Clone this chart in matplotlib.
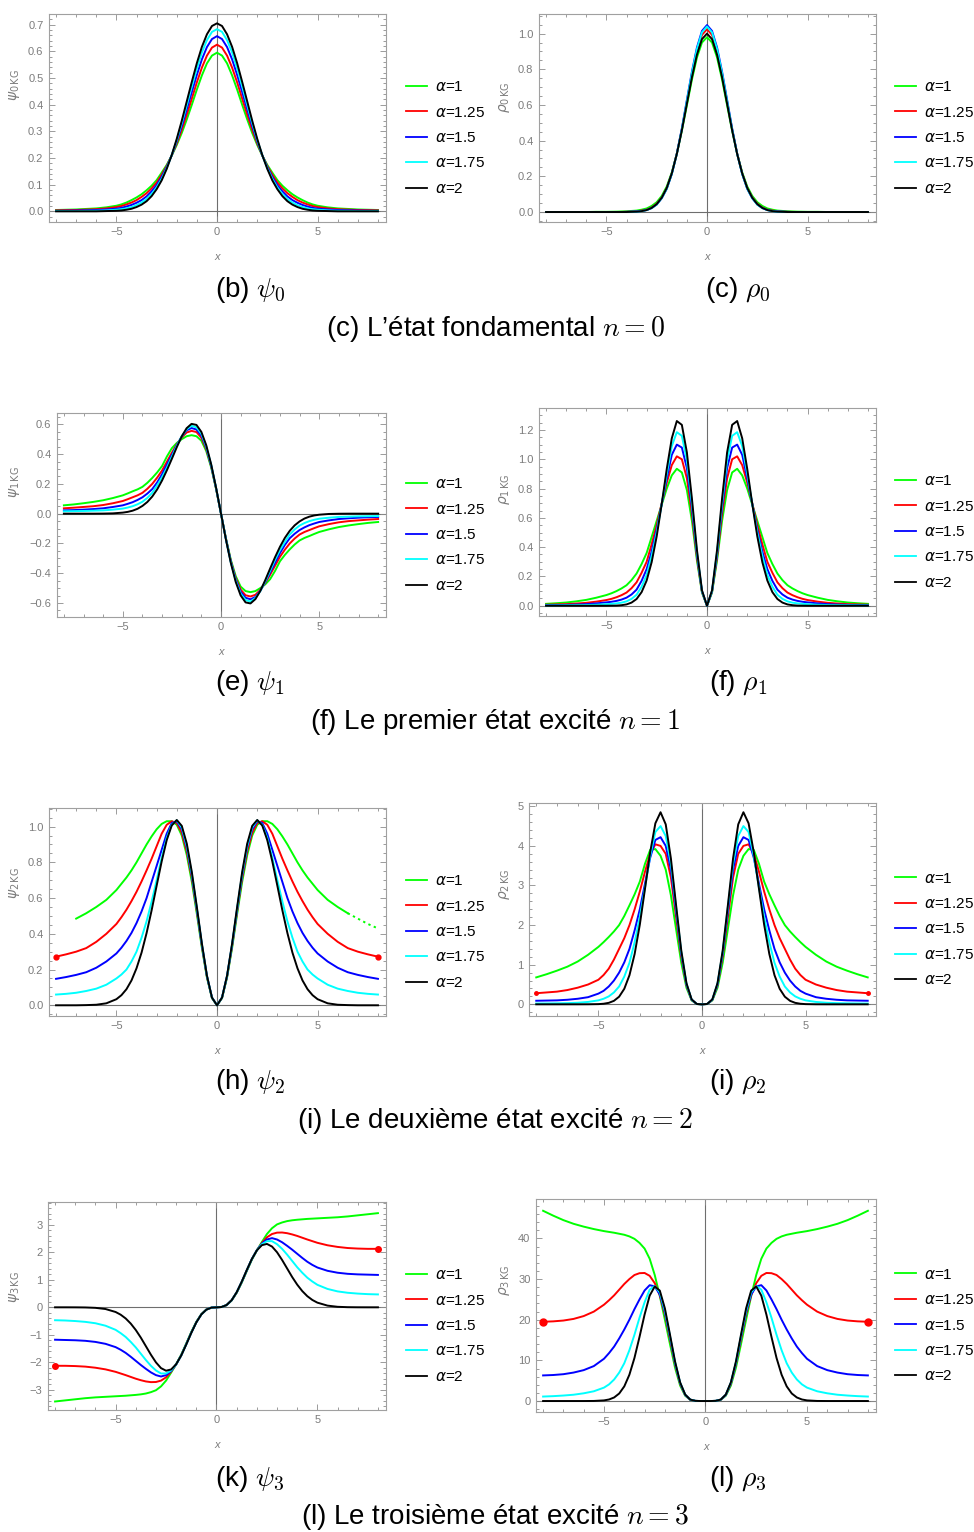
import matplotlib
matplotlib.use("Agg")
import numpy as np
import matplotlib.pyplot as plt
from matplotlib.ticker import MultipleLocator, FuncFormatter
from matplotlib.font_manager import FontProperties

plt.rcParams['font.family'] = ['Liberation Sans', 'DejaVu Sans']

W, H = 974, 1532

# ---------------- data ----------------
X = [-8, -7.5, -7, -6.5, -6, -5.5, -5, -4.75, -4.5, -4.25, -4, -3.75, -3.5, -3.25, -3, -2.75, -2.5,
     -2.25, -2, -1.75, -1.5, -1.25, -1, -0.75, -0.5, -0.25, 0, 0.25, 0.5, 0.75, 1, 1.25, 1.5, 1.75,
     2, 2.25, 2.5, 2.75, 3, 3.25, 3.5, 3.75, 4, 4.25, 4.5, 4.75, 5, 5.5, 6, 6.5, 7, 7.5, 8]

alpha_labels = ['1', '1.25', '1.5', '1.75', '2']
colors = ['#00ff00', '#ff0000', '#0000ff', '#00ffff', '#000000']

# psi_0
psi0_a1 = [0.005,0.006,0.007,0.009,0.011,0.015,0.021,0.026,0.033,0.042,0.052,0.064,0.079,0.096,0.117,0.145,0.174,0.209,0.249,0.294,0.345,0.400,0.457,0.510,0.555,0.584,0.595,0.584,0.555,0.510,0.457,0.400,0.345,0.294,0.249,0.209,0.174,0.145,0.117,0.096,0.079,0.064,0.052,0.042,0.033,0.026,0.021,0.015,0.011,0.009,0.007,0.006,0.005]
psi0_a125 = [0.0035,0.0045,0.005,0.0065,0.008,0.011,0.016,0.020,0.026,0.033,0.042,0.054,0.068,0.086,0.108,0.137,0.170,0.210,0.255,0.306,0.363,0.423,0.484,0.539,0.584,0.614,0.625,0.614,0.584,0.539,0.484,0.423,0.363,0.306,0.255,0.210,0.170,0.137,0.108,0.086,0.068,0.054,0.042,0.033,0.026,0.020,0.016,0.011,0.008,0.0065,0.005,0.0045,0.0035]
psi0_a15 = [0.002,0.0025,0.003,0.004,0.005,0.007,0.010,0.013,0.018,0.024,0.032,0.042,0.056,0.075,0.098,0.129,0.166,0.210,0.262,0.320,0.383,0.448,0.512,0.570,0.616,0.646,0.657,0.646,0.616,0.570,0.512,0.448,0.383,0.320,0.262,0.210,0.166,0.129,0.098,0.075,0.056,0.042,0.032,0.024,0.018,0.013,0.010,0.007,0.005,0.004,0.003,0.0025,0.002]
psi0_a175 = [0.001,0.001,0.001,0.0018,0.002,0.0035,0.006,0.008,0.011,0.016,0.023,0.033,0.046,0.065,0.090,0.122,0.162,0.211,0.267,0.331,0.399,0.469,0.536,0.596,0.642,0.673,0.683,0.673,0.642,0.596,0.536,0.469,0.399,0.331,0.267,0.211,0.162,0.122,0.090,0.065,0.046,0.033,0.023,0.016,0.011,0.008,0.006,0.0035,0.002,0.0018,0.001,0.001,0.001]
psi0_a2 = [0,0,0,0,0,0.001,0.002,0.0033,0.006,0.0096,0.016,0.025,0.038,0.057,0.083,0.116,0.159,0.211,0.272,0.340,0.413,0.486,0.556,0.617,0.664,0.695,0.705,0.695,0.664,0.617,0.556,0.486,0.413,0.340,0.272,0.211,0.159,0.116,0.083,0.057,0.038,0.025,0.016,0.0096,0.006,0.0033,0.002,0.001,0,0,0,0,0]

# rho_0
rho0_a1 = [0,0,0,0,0,0.001,0.001,0.0015,0.002,0.003,0.004,0.006,0.008,0.013,0.020,0.034,0.055,0.090,0.143,0.222,0.327,0.455,0.598,0.742,0.866,0.950,0.98,0.950,0.866,0.742,0.598,0.455,0.327,0.222,0.143,0.090,0.055,0.034,0.020,0.013,0.008,0.006,0.004,0.003,0.002,0.0015,0.001,0.001,0,0,0,0,0]
rho0_a125 = [0,0,0,0,0,0,0,0,0,0.0005,0.001,0.002,0.004,0.008,0.013,0.025,0.046,0.081,0.134,0.216,0.327,0.464,0.618,0.771,0.902,0.993,1.025,0.993,0.902,0.771,0.618,0.464,0.327,0.216,0.134,0.081,0.046,0.025,0.013,0.008,0.004,0.002,0.001,0.0005,0,0,0,0,0,0,0,0,0]
rho0_a15 = [0,0,0,0,0,0,0,0,0,0,0.001,0.002,0.003,0.006,0.011,0.022,0.042,0.077,0.130,0.213,0.327,0.468,0.628,0.786,0.922,1.015,1.048,1.015,0.922,0.786,0.628,0.468,0.327,0.213,0.130,0.077,0.042,0.022,0.011,0.006,0.003,0.002,0.001,0,0,0,0,0,0,0,0,0,0]
rho0_a175 = [0,0,0,0,0,0,0,0,0,0,0,0.001,0.002,0.005,0.011,0.022,0.042,0.078,0.131,0.213,0.325,0.464,0.622,0.778,0.914,1.007,1.040,1.007,0.914,0.778,0.622,0.464,0.325,0.213,0.131,0.078,0.042,0.022,0.011,0.005,0.002,0.001,0,0,0,0,0,0,0,0,0,0,0]
rho0_a2 = [0,0,0,0,0,0,0,0,0,0,0,0.001,0.002,0.005,0.011,0.023,0.044,0.080,0.135,0.216,0.325,0.458,0.607,0.755,0.882,0.969,1.0,0.969,0.882,0.755,0.607,0.458,0.325,0.216,0.135,0.080,0.044,0.023,0.011,0.005,0.002,0.001,0,0,0,0,0,0,0,0,0,0,0]

# psi_1
psi1_a1 = [0.056,0.062,0.07,0.079,0.09,0.105,0.123,0.136,0.15,0.163,0.18,0.207,0.24,0.277,0.32,0.385,0.44,0.475,0.50,0.52,0.527,0.52,0.49,0.42,0.31,0.165,0,-0.165,-0.31,-0.42,-0.49,-0.52,-0.527,-0.52,-0.50,-0.475,-0.44,-0.385,-0.32,-0.277,-0.24,-0.207,-0.18,-0.163,-0.15,-0.136,-0.123,-0.105,-0.09,-0.079,-0.07,-0.062,-0.056]
psi1_a125 = [0.036,0.04,0.045,0.05,0.058,0.07,0.085,0.097,0.11,0.123,0.14,0.167,0.20,0.242,0.29,0.35,0.41,0.465,0.512,0.545,0.556,0.548,0.51,0.433,0.318,0.168,0,-0.168,-0.318,-0.433,-0.51,-0.548,-0.556,-0.545,-0.512,-0.465,-0.41,-0.35,-0.29,-0.242,-0.20,-0.167,-0.14,-0.123,-0.11,-0.097,-0.085,-0.07,-0.058,-0.05,-0.045,-0.04,-0.036]
psi1_a15 = [0.022,0.024,0.027,0.031,0.036,0.045,0.056,0.066,0.077,0.092,0.11,0.135,0.165,0.21,0.265,0.33,0.395,0.46,0.518,0.56,0.575,0.565,0.525,0.443,0.322,0.17,0,-0.17,-0.322,-0.443,-0.525,-0.565,-0.575,-0.56,-0.518,-0.46,-0.395,-0.33,-0.265,-0.21,-0.165,-0.135,-0.11,-0.092,-0.077,-0.066,-0.056,-0.045,-0.036,-0.031,-0.027,-0.024,-0.022]
psi1_a175 = [0.016,0.017,0.018,0.02,0.022,0.027,0.034,0.041,0.05,0.063,0.08,0.106,0.14,0.19,0.245,0.31,0.383,0.455,0.52,0.567,0.59,0.58,0.537,0.45,0.327,0.172,0,-0.172,-0.327,-0.45,-0.537,-0.58,-0.59,-0.567,-0.52,-0.455,-0.383,-0.31,-0.245,-0.19,-0.14,-0.106,-0.08,-0.063,-0.05,-0.041,-0.034,-0.027,-0.022,-0.02,-0.018,-0.017,-0.016]
psi1_a2 = [0,0,0,0,0.0005,0.002,0.007,0.0119,0.020,0.0327,0.052,0.0785,0.115,0.163,0.223,0.293,0.369,0.447,0.519,0.574,0.603,0.596,0.549,0.459,0.331,0.1735,0,-0.1735,-0.331,-0.459,-0.549,-0.596,-0.603,-0.574,-0.519,-0.447,-0.369,-0.293,-0.223,-0.163,-0.115,-0.0785,-0.052,-0.0327,-0.020,-0.0119,-0.007,-0.002,-0.0005,0,0,0,0]

# rho_1
rho1_a1 = [0.013,0.017,0.022,0.03,0.04,0.055,0.073,0.085,0.10,0.118,0.14,0.175,0.22,0.285,0.36,0.47,0.58,0.69,0.80,0.89,0.935,0.91,0.79,0.58,0.31,0.09,0,0.09,0.31,0.58,0.79,0.91,0.935,0.89,0.80,0.69,0.58,0.47,0.36,0.285,0.22,0.175,0.14,0.118,0.10,0.085,0.073,0.055,0.04,0.03,0.022,0.017,0.013]
rho1_a125 = [0.007,0.009,0.011,0.015,0.02,0.028,0.039,0.047,0.058,0.072,0.09,0.12,0.16,0.225,0.30,0.42,0.55,0.70,0.84,0.96,1.02,1.0,0.87,0.63,0.33,0.095,0,0.095,0.33,0.63,0.87,1.0,1.02,0.96,0.84,0.70,0.55,0.42,0.30,0.225,0.16,0.12,0.09,0.072,0.058,0.047,0.039,0.028,0.02,0.015,0.011,0.009,0.007]
rho1_a15 = [0.004,0.005,0.006,0.008,0.011,0.016,0.023,0.027,0.033,0.042,0.055,0.077,0.11,0.17,0.25,0.37,0.52,0.695,0.87,1.03,1.10,1.08,0.94,0.67,0.35,0.098,0,0.098,0.35,0.67,0.94,1.08,1.10,1.03,0.87,0.695,0.52,0.37,0.25,0.17,0.11,0.077,0.055,0.042,0.033,0.027,0.023,0.016,0.011,0.008,0.006,0.005,0.004]
rho1_a175 = [0.002,0.002,0.003,0.004,0.005,0.007,0.011,0.013,0.016,0.021,0.03,0.047,0.075,0.13,0.21,0.34,0.50,0.695,0.90,1.09,1.185,1.16,0.995,0.70,0.365,0.10,0,0.10,0.365,0.70,0.995,1.16,1.185,1.09,0.90,0.695,0.50,0.34,0.21,0.13,0.075,0.047,0.03,0.021,0.016,0.013,0.011,0.007,0.005,0.004,0.003,0.002,0.002]
rho1_a2 = [0,0,0,0,0,0,0,0.0005,0.001,0.0037,0.009,0.0215,0.046,0.093,0.172,0.298,0.474,0.695,0.934,1.143,1.261,1.235,1.047,0.733,0.381,0.105,0,0.105,0.381,0.733,1.047,1.235,1.261,1.143,0.934,0.695,0.474,0.298,0.172,0.093,0.046,0.0215,0.009,0.0037,0.001,0.0005,0,0,0,0,0,0,0]

# psi_2  (alpha=1 curve is missing in the picture for x < -7)
psi2_a1 = [np.nan,np.nan,0.485,0.515,0.55,0.59,0.645,0.68,0.715,0.755,0.80,0.85,0.90,0.945,0.985,1.015,1.03,1.03,1.01,0.95,0.84,0.69,0.51,0.32,0.155,0.040,0,0.040,0.155,0.32,0.51,0.69,0.84,0.95,1.01,1.03,1.03,1.015,0.985,0.945,0.90,0.85,0.80,0.755,0.715,0.68,0.645,0.59,0.55,0.515,0.485,0.455,0.43]
psi2_a125 = [0.272,0.285,0.30,0.32,0.355,0.40,0.455,0.493,0.535,0.583,0.635,0.693,0.755,0.82,0.89,0.96,1.01,1.03,1.02,0.965,0.86,0.71,0.525,0.33,0.16,0.042,0,0.042,0.16,0.33,0.525,0.71,0.86,0.965,1.02,1.03,1.01,0.96,0.89,0.82,0.755,0.693,0.635,0.583,0.535,0.493,0.455,0.40,0.355,0.32,0.30,0.285,0.272]
psi2_a15 = [0.148,0.158,0.17,0.185,0.21,0.245,0.29,0.322,0.36,0.405,0.46,0.525,0.60,0.69,0.78,0.87,0.96,1.02,1.03,0.985,0.88,0.725,0.535,0.337,0.163,0.043,0,0.043,0.163,0.337,0.535,0.725,0.88,0.985,1.03,1.02,0.96,0.87,0.78,0.69,0.60,0.525,0.46,0.405,0.36,0.322,0.29,0.245,0.21,0.185,0.17,0.158,0.148]
psi2_a175 = [0.06,0.064,0.07,0.08,0.093,0.115,0.15,0.172,0.20,0.245,0.30,0.378,0.47,0.58,0.70,0.825,0.935,1.01,1.035,0.995,0.89,0.735,0.54,0.34,0.164,0.043,0,0.043,0.164,0.34,0.54,0.735,0.89,0.995,1.035,1.01,0.935,0.825,0.70,0.58,0.47,0.378,0.30,0.245,0.20,0.172,0.15,0.115,0.093,0.08,0.07,0.064,0.06]
psi2_a2 = [0,0,0,0.001,0.003,0.011,0.034,0.0565,0.090,0.139,0.207,0.2945,0.404,0.531,0.669,0.805,0.924,1.006,1.037,1.004,0.904,0.745,0.549,0.345,0.166,0.043,0,0.043,0.166,0.345,0.549,0.745,0.904,1.004,1.037,1.006,0.924,0.805,0.669,0.531,0.404,0.2945,0.207,0.139,0.090,0.0565,0.034,0.011,0.003,0.001,0,0,0]

# rho_2
rho2_a1 = [0.68,0.76,0.85,0.95,1.08,1.25,1.45,1.57,1.7,1.84,2.0,2.23,2.5,2.78,3.1,3.55,3.9,3.92,3.75,3.4,2.75,1.9,1.05,0.42,0.10,0.007,0,0.007,0.10,0.42,1.05,1.9,2.75,3.4,3.75,3.92,3.9,3.55,3.1,2.78,2.5,2.23,2.0,1.84,1.7,1.57,1.45,1.25,1.08,0.95,0.85,0.76,0.68]
rho2_a125 = [0.28,0.3,0.32,0.36,0.42,0.5,0.62,0.74,0.9,1.13,1.4,1.67,2.0,2.4,2.85,3.35,3.8,4.04,4.0,3.8,3.2,2.2,1.2,0.48,0.11,0.008,0,0.008,0.11,0.48,1.2,2.2,3.2,3.8,4.0,4.04,3.8,3.35,2.85,2.4,2.0,1.67,1.4,1.13,0.9,0.74,0.62,0.5,0.42,0.36,0.32,0.3,0.28]
rho2_a15 = [0.09,0.095,0.1,0.115,0.14,0.18,0.27,0.34,0.45,0.6,0.8,1.06,1.4,1.87,2.4,3.05,3.7,4.15,4.22,4.0,3.4,2.35,1.27,0.5,0.115,0.008,0,0.008,0.115,0.5,1.27,2.35,3.4,4.0,4.22,4.15,3.7,3.05,2.4,1.87,1.4,1.06,0.8,0.6,0.45,0.34,0.27,0.18,0.14,0.115,0.1,0.095,0.09]
rho2_a175 = [0.02,0.022,0.025,0.03,0.04,0.06,0.1,0.14,0.2,0.3,0.45,0.7,1.05,1.57,2.2,2.95,3.75,4.35,4.5,4.25,3.55,2.45,1.32,0.52,0.12,0.008,0,0.008,0.12,0.52,1.32,2.45,3.55,4.25,4.5,4.35,3.75,2.95,2.2,1.57,1.05,0.7,0.45,0.3,0.2,0.14,0.1,0.06,0.04,0.03,0.025,0.022,0.02]
rho2_a2 = [0,0,0,0,0,0.001,0.005,0.0145,0.037,0.088,0.192,0.392,0.736,1.272,2.014,2.92,3.84,4.57,4.85,4.544,3.682,2.503,1.359,0.535,0.124,0.009,0,0.009,0.124,0.535,1.359,2.503,3.682,4.544,4.85,4.57,3.84,2.92,2.014,1.272,0.736,0.392,0.192,0.088,0.037,0.0145,0.005,0.001,0,0,0,0,0]

# psi_3
psi3_a1 = [-3.43,-3.39,-3.35,-3.31,-3.28,-3.26,-3.24,-3.23,-3.22,-3.205,-3.19,-3.17,-3.14,-3.09,-3.02,-2.88,-2.67,-2.38,-2.07,-1.73,-1.32,-0.9,-0.53,-0.25,-0.08,-0.011,0,0.011,0.08,0.25,0.53,0.9,1.32,1.73,2.07,2.38,2.67,2.88,3.02,3.09,3.14,3.17,3.19,3.205,3.22,3.23,3.24,3.26,3.28,3.31,3.35,3.39,3.43]
psi3_a125 = [-2.13,-2.13,-2.14,-2.16,-2.2,-2.26,-2.35,-2.41,-2.47,-2.535,-2.6,-2.655,-2.7,-2.725,-2.72,-2.67,-2.55,-2.34,-2.08,-1.75,-1.34,-0.92,-0.54,-0.255,-0.082,-0.011,0,0.011,0.082,0.255,0.54,0.92,1.34,1.75,2.08,2.34,2.55,2.67,2.72,2.725,2.7,2.655,2.6,2.535,2.47,2.41,2.35,2.26,2.2,2.16,2.14,2.13,2.13]
psi3_a15 = [-1.18,-1.19,-1.2,-1.22,-1.26,-1.33,-1.45,-1.545,-1.66,-1.8,-1.95,-2.1,-2.24,-2.37,-2.47,-2.52,-2.47,-2.32,-2.08,-1.755,-1.345,-0.925,-0.545,-0.257,-0.082,-0.011,0,0.011,0.082,0.257,0.545,0.925,1.345,1.755,2.08,2.32,2.47,2.52,2.47,2.37,2.24,2.1,1.95,1.8,1.66,1.545,1.45,1.33,1.26,1.22,1.2,1.19,1.18]
psi3_a175 = [-0.47,-0.48,-0.5,-0.53,-0.58,-0.67,-0.82,-0.94,-1.08,-1.26,-1.46,-1.69,-1.92,-2.13,-2.3,-2.41,-2.41,-2.3,-2.08,-1.756,-1.35,-0.928,-0.547,-0.258,-0.082,-0.011,0,0.011,0.082,0.258,0.547,0.928,1.35,1.756,2.08,2.3,2.41,2.41,2.3,2.13,1.92,1.69,1.46,1.26,1.08,0.94,0.82,0.67,0.58,0.53,0.5,0.48,0.47]
psi3_a2 = [0,0,-0.001,-0.005,-0.019,-0.062,-0.170,-0.268,-0.406,-0.592,-0.826,-1.104,-1.415,-1.726,-2.006,-2.214,-2.309,-2.264,-2.075,-1.757,-1.356,-0.932,-0.549,-0.258,-0.083,-0.011,0,0.011,0.083,0.258,0.549,0.932,1.356,1.757,2.075,2.264,2.309,2.214,2.006,1.726,1.415,1.104,0.826,0.592,0.406,0.268,0.170,0.062,0.019,0.005,0.001,0,0]

# rho_3
rho3_a1 = [46.8,45.6,44.5,43.6,42.9,42.3,41.8,41.6,41.4,41.15,40.9,40.5,39.9,38.9,37.5,35.0,31.0,25.8,20.0,14.0,8.2,3.8,1.3,0.3,0.03,0.001,0,0.001,0.03,0.3,1.3,3.8,8.2,14.0,20.0,25.8,31.0,35.0,37.5,38.9,39.9,40.5,40.9,41.15,41.4,41.6,41.8,42.3,42.9,43.6,44.5,45.6,46.8]
rho3_a125 = [19.5,19.6,19.8,20.2,20.9,22.0,23.7,24.8,26.0,27.4,28.8,30.0,31.0,31.45,31.5,30.8,29.0,26.0,21.3,15.2,9.0,4.2,1.45,0.33,0.033,0.001,0,0.001,0.033,0.33,1.45,4.2,9.0,15.2,21.3,26.0,29.0,30.8,31.5,31.45,31.0,30.0,28.8,27.4,26.0,24.8,23.7,22.0,20.9,20.2,19.8,19.6,19.5]
rho3_a15 = [6.3,6.4,6.6,7.0,7.6,8.6,10.4,11.8,13.4,15.4,17.6,20.0,22.6,25.0,27.2,28.5,28.2,26.2,21.8,15.7,9.3,4.4,1.5,0.34,0.034,0.001,0,0.001,0.034,0.34,1.5,4.4,9.3,15.7,21.8,26.2,28.2,28.5,27.2,25.0,22.6,20.0,17.6,15.4,13.4,11.8,10.4,8.6,7.6,7.0,6.6,6.4,6.3]
rho3_a175 = [1.1,1.2,1.35,1.55,1.9,2.4,3.3,4.1,5.3,7.0,9.3,12.5,16.3,20.5,24.3,27.4,28.3,26.7,22.2,16.0,9.5,4.5,1.55,0.35,0.035,0.001,0,0.001,0.035,0.35,1.55,4.5,9.5,16.0,22.2,26.7,28.3,27.4,24.3,20.5,16.3,12.5,9.3,7.0,5.3,4.1,3.3,2.4,1.9,1.55,1.35,1.2,1.1]
rho3_a2 = [0,0,0,0,0,0.02,0.153,0.381,0.876,1.854,3.61,6.465,10.59,15.78,21.28,25.93,28.18,27.16,22.78,16.34,9.73,4.59,1.595,0.353,0.036,0.001,0,0.001,0.036,0.353,1.595,4.59,9.73,16.34,22.78,27.16,28.18,25.93,21.28,15.78,10.59,6.465,3.61,1.854,0.876,0.381,0.153,0.02,0,0,0,0,0]

# captions
sub_captions = [('(b) $\\psi_0$', '(c) $\\rho_0$'), ('(e) $\\psi_1$', '(f) $\\rho_1$'),
                ('(h) $\\psi_2$', '(i) $\\rho_2$'), ('(k) $\\psi_3$', '(l) $\\rho_3$')]
row_captions = ['(c) L\u2019\u00e9tat fondamental $n = 0$',
                '(f) Le premier \u00e9tat excit\u00e9 $n = 1$',
                '(i) Le deuxi\u00e8me \u00e9tat excit\u00e9 $n = 2$',
                '(l) Le troisi\u00e8me \u00e9tat excit\u00e9 $n = 3$']

# ---------------- figure ----------------
fig = plt.figure(figsize=(W / 100, H / 100), dpi=100)
fig.patch.set_facecolor('white')

GRAY_T = '#8c8c8c'
GRAY_L = '#7c7c7c'


def minus_fmt(fmt):
    return FuncFormatter(lambda v, p: (fmt % v).replace('-', '\u2212'))


def panel(frame, ylim, ymaj, yminor, fmt, ylabel, ylab_frac, series, leg_x, right,
          green_split=None, red_marker=0):
    l, r, t, b = frame
    w, h = r - l, b - t
    ax = fig.add_axes([l / W, 1 - b / H, w / W, h / H])
    ax.set_xlim(-8.35, 8.4)
    ax.set_ylim(*ylim)
    ax.axvline(0, color='#6e6e6e', lw=0.8, zorder=1)
    ax.axhline(0, color='#6e6e6e', lw=0.8, zorder=1)
    xs = np.array(X, dtype=float)
    handles = []
    for k, (ys, c, lab) in enumerate(zip(series, colors, alpha_labels)):
        ys = np.array(ys, dtype=float)
        if k == 0 and green_split is not None:
            solid = xs <= green_split
            dotted = xs >= green_split
            hnd, = ax.plot(xs[solid], ys[solid], color=c, lw=1.4, zorder=2)
            ax.plot(xs[dotted], ys[dotted], color=c, lw=1.4, zorder=2,
                    linestyle=(0, (1.2, 1.8)))
        else:
            hnd, = ax.plot(xs, ys, color=c, lw=1.4, zorder=2, solid_joinstyle='round')
        handles.append(hnd)
        if k == 1 and red_marker > 0:
            ax.plot(xs[[0, -1]], ys[[0, -1]], 'o', color=c, ms=red_marker,
                    mec=c, zorder=3)
    ax.xaxis.set_major_locator(MultipleLocator(5))
    ax.xaxis.set_minor_locator(MultipleLocator(1))
    ax.yaxis.set_major_locator(MultipleLocator(ymaj))
    ax.yaxis.set_minor_locator(MultipleLocator(yminor))
    ax.xaxis.set_major_formatter(minus_fmt('%d'))
    ax.yaxis.set_major_formatter(minus_fmt(fmt))
    ax.tick_params(which='both', direction='in', top=True, right=True, color=GRAY_T, width=0.6)
    ax.tick_params(which='major', length=4, labelsize=8, labelcolor=GRAY_L)
    ax.tick_params(which='minor', length=2)
    ax.tick_params(axis='y', which='major', pad=4)
    ax.tick_params(axis='x', which='major', pad=3.5)
    for s in ax.spines.values():
        s.set_color('#a0a0a0')
        s.set_linewidth(0.8)
    ax.set_xlabel('x', fontsize=8, color=GRAY_L, style='italic')
    ax.xaxis.set_label_coords(0.5, -35 / h)
    ax.xaxis.label.set_verticalalignment('center')
    ax.set_ylabel(ylabel, fontsize=10, color=GRAY_L, math_fontfamily='dejavusans')
    lab_x = (505 if right else 15)
    ax.yaxis.set_label_coords(-(l - lab_x) / w, 1 - ylab_frac)
    ax.yaxis.label.set_verticalalignment('center')
    ax.yaxis.label.set_horizontalalignment('center')
    fp = FontProperties(family='Liberation Sans', size=11, math_fontfamily='dejavusans')
    ax.legend(handles, ['$\\alpha$=' + a for a in alpha_labels], loc='center left',
              bbox_to_anchor=(leg_x / W, 1 - (t + h / 2 + 20) / H),
              bbox_transform=fig.transFigure, frameon=False, borderpad=0,
              borderaxespad=0, handlelength=1.37, handletextpad=0.52,
              labelspacing=0.75, prop=fp)
    for lg in ax.get_legend().get_lines():
        lg.set_linewidth(1.3)
    return ax


# row 1
panel((49, 386, 14, 222), (-0.04, 0.74), 0.1, 0.02, '%.1f', '$\\psi_{0\\,\\mathrm{KG}}$', 0.34,
      [psi0_a1, psi0_a125, psi0_a15, psi0_a175, psi0_a2], 406, False)
panel((539, 876, 14, 222), (-0.056, 1.11), 0.2, 0.05, '%.1f', '$\\rho_{0\\,\\mathrm{KG}}$', 0.40,
      [rho0_a1, rho0_a125, rho0_a15, rho0_a175, rho0_a2], 895, True)
# row 2
panel((57, 386, 413, 617), (-0.694, 0.676), 0.2, 0.05, '%.1f', '$\\psi_{1\\,\\mathrm{KG}}$', 0.34,
      [psi1_a1, psi1_a125, psi1_a15, psi1_a175, psi1_a2], 406, False)
panel((539, 876, 408, 616), (-0.07, 1.35), 0.2, 0.05, '%.1f', '$\\rho_{1\\,\\mathrm{KG}}$', 0.39,
      [rho1_a1, rho1_a125, rho1_a15, rho1_a175, rho1_a2], 895, True)
# row 3
panel((49, 386, 808, 1016), (-0.06, 1.104), 0.2, 0.05, '%.1f', '$\\psi_{2\\,\\mathrm{KG}}$', 0.36,
      [psi2_a1, psi2_a125, psi2_a15, psi2_a175, psi2_a2], 406, False,
      green_split=6.5, red_marker=3.5)
panel((529, 876, 803, 1016), (-0.295, 5.083), 1, 0.2, '%d', '$\\rho_{2\\,\\mathrm{KG}}$', 0.38,
      [rho2_a1, rho2_a125, rho2_a15, rho2_a175, rho2_a2], 895, True, red_marker=2.5)
# row 4
panel((48, 386, 1202, 1410), (-3.74, 3.836), 1, 0.2, '%d', '$\\psi_{3\\,\\mathrm{KG}}$', 0.41,
      [psi3_a1, psi3_a125, psi3_a15, psi3_a175, psi3_a2], 406, False, red_marker=4)
panel((536, 876, 1199, 1412), (-2.7, 49.7), 10, 2, '%d', '$\\rho_{3\\,\\mathrm{KG}}$', 0.38,
      [rho3_a1, rho3_a125, rho3_a15, rho3_a175, rho3_a2], 895, True, red_marker=5)

# captions
sub_y = [290, 683, 1082, 1479]
main_y = [329, 722, 1121, 1517]
for (cl, cr), cm, sy, my in zip(sub_captions, row_captions, sub_y, main_y):
    fig.text(250 / W, 1 - sy / H, cl, fontsize=20, ha='center', va='center', math_fontfamily='cm')
    fig.text(738 / W, 1 - sy / H, cr, fontsize=20, ha='center', va='center', math_fontfamily='cm')
    fig.text(495 / W, 1 - my / H, cm, fontsize=20, ha='center', va='center', math_fontfamily='cm')

fig.savefig('out.png', dpi=100, facecolor='white')
